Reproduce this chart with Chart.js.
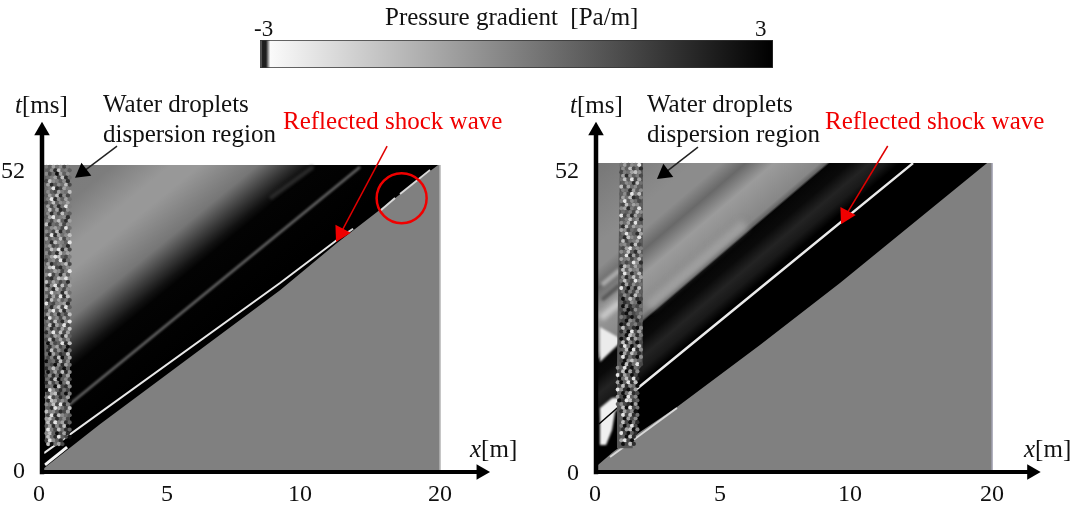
<!DOCTYPE html>
<html>
<head>
<meta charset="utf-8">
<script src="https://cdn.jsdelivr.net/npm/chart.js@4"></script>
<style>
    html, body { margin: 0; padding: 0; background: #fff; }
    #fig { position: relative; width: 1079px; height: 511px; overflow: hidden; filter: blur(0.4px); }
    canvas { position: absolute; }
    .lbl { position: absolute; font: 25px/28px "Liberation Serif", serif; color: #111; white-space: pre; }
    .red { color: #f00000; }
</style>
</head>
<body>
<div id="fig">
    <canvas id="colorbar" width="540" height="50" style="left:250px;top:30px"></canvas>
    <canvas id="leftChart" width="540" height="511" style="left:0;top:0"></canvas>
    <canvas id="rightChart" width="539" height="511" style="left:540px;top:0"></canvas>

    <div class="lbl" style="left:385px;top:3px">Pressure gradient  [Pa/m]</div>
    <div class="lbl" style="left:254px;top:15px;font-size:23px">-3</div>
    <div class="lbl" style="left:755px;top:15px;font-size:23px">3</div>

    <div class="lbl" style="left:15px;top:91px"><i>t</i>[ms]</div>
    <div class="lbl" style="left:103px;top:90px">Water droplets</div>
    <div class="lbl" style="left:103px;top:120px">dispersion region</div>
    <div class="lbl red" style="left:283px;top:107px">Reflected shock wave</div>
    <div class="lbl" style="left:470px;top:435px"><i>x</i>[m]</div>

    <div class="lbl" style="left:570px;top:91px"><i>t</i>[ms]</div>
    <div class="lbl" style="left:647px;top:90px">Water droplets</div>
    <div class="lbl" style="left:647px;top:120px">dispersion region</div>
    <div class="lbl red" style="left:825px;top:107px">Reflected shock wave</div>
    <div class="lbl" style="left:1024px;top:435px"><i>x</i>[m]</div>
</div>
<script>
var colorbarValues = [-3, -2.97, -2.93, -2.88, 3];
var colorbarGrays = [150, 30, 30, 250, 0];

// axes: the printed labels do not sit on an even scale in the figure
var leftXTickLabels = ['0', '5', '10', '20'];
var leftXTickAt = [-0.15, 6.28, 12.96, 20];
var leftYTickLabels = ['0', '52'];
var leftYTickAt = [0, 50.8];
var rightXTickLabels = ['0', '5', '10', '20'];
var rightXTickAt = [-0.05, 6.26, 12.83, 20];
var rightYTickLabels = ['0', '52'];
var rightYTickAt = [-0.34, 50.5];

// left panel, x in m, t in ms
var leftFieldX = [0, 19.9, 16.98, 14.82, 11.96, 7.94, 2.91, 0.05, 0];
var leftFieldT = [52, 52, 44.4, 38.8, 30.8, 20.7, 8.1, 0.5, 0.5];
var leftWaveT0 = [55, 42, 34, 30, 22, 18, 15, 13.5, 0];
var leftWaveGray = [122, 125, 152, 152, 118, 60, 18, 3, 0];
var leftShockX = [0.1, 11.96, 14.82];
var leftShockT = [3.2, 32, 39.3];
var leftShockBitsX = [15.23, 15.63, null, 16.98, 17.74, null, 17.99, 19.5];
var leftShockBitsT = [40.3, 41.2, null, 44.2, 46.4, null, 47.1, 51.15];
var leftWedgeX = [0.15, 1.26];
var leftWedgeT = [1.2, 4.2];
var leftGrayLineX = [1.16, 15.98];
var leftGrayLineT = [10.84, 51.66];
var leftFaintLineX = [11.46, 13.62];
var leftFaintLineT = [46.4, 51.66];
var leftEdgeX = [20, 20];
var leftEdgeT = [0, 52];
var leftStripX = [0.15, 1.4, 1.4, 1.0, 0.15];
var leftStripT = [52, 52, 8, 5, 5];
var leftRedShaftX = [17.34, 15.01];
var leftRedShaftT = [55.2, 40.45];
var leftBlackShaftX = [3.77, 2.04];
var leftBlackShaftT = [55.2, 50.8];
var leftCircleX = [18.07];
var leftCircleT = [46.36];

// right panel
var rightFieldX = [0, 19.75, 12.32, 8.28, 4.09, 2.22, 0.86, 0.1, 0];
var rightFieldT = [52, 52, 31.82, 21.38, 10.94, 6.73, 3.37, 1.18, 1.18];
var rightWaveT0 = [52, 38, 34, 30.6, 26.5, 20, 19, 18.5, 15.6, 12.8, 10.6, 8.5, 0];
var rightWaveGray = [118, 140, 140, 105, 155, 135, 100, 5, 10, 35, 25, 0, 0];
var rightShockX = [1.87, 8.79, 16.01];
var rightShockT = [13.47, 32.32, 52];
var rightFrontLineX = [0.71, 4.09];
var rightFrontLineT = [2.53, 10.77];
var rightDarkLineX = [0.15, 1.36];
var rightDarkLineT = [8.08, 11.62];
var rightWedgeX = [0.2, 1.36, 0.2];
var rightWedgeT = [24.41, 22.22, 18.52];
var rightBlobX = [0.2, 0.81, 1.36, 1.36, 0.96, 0.81, 0.51, 0.2];
var rightBlobT = [10.77, 12.46, 12.63, 11.62, 10.1, 7.07, 4.55, 4.55];
var rightGlowAX = [0.25, 1.21];
var rightGlowAT = [25.9, 28.6];
var rightStreakX = [0.3, 1.21];
var rightStreakT = [29, 31.5];
var rightGlowBX = [0.3, 1.21];
var rightGlowBT = [31.5, 34];
var rightGlowCX = [2.63, 7.5];
var rightGlowCT = [27.9, 41.8];
var rightEdgeX = [20, 20];
var rightEdgeT = [0, 52];
var rightStripX = [1.21, 2.37, 2.35, 2.1, 1.85, 1.06, 1.06];
var rightStripT = [52, 52, 18, 17, 4, 4, 18];
var rightRedShaftX = [14.73, 12.61];
var rightRedShaftT = [54.88, 43.2];
var rightBlackShaftX = [5.15, 3.46];
var rightBlackShaftT = [54.7, 50.3];

var speckleGrays = [15, 45, 72, 95, 112, 125, 140, 162, 192, 228];

// droplet strip read row by row from t = 52 down, one digit per cell
var leftSpeckleStartX = 0.22;
var leftSpeckleStartT = 51.7;
var leftSpeckle = [
    '5374625', '3618453', '6240736', '4572814', '2865361', '7136482', '4591275', '6327548',
    '3748162', '5916374', '2483657', '7261495', '4837126', '6152843', '3794561', '5268317',
    '8143726', '3675294', '6428153', '2917468', '7354826', '4186539', '5723641', '3869172',
    '6241857', '4798325', '2563914', '7134682', '5892146', '3476259', '6925173', '2148796',
    '8375241', '1692837', '7418526', '3956184', '6273918', '1847352', '9325671', '4168293',
    '2793816', '7361428', '1946273', '5283169', '3817492', '6142738', '1593827', '4276183',
    '2814736', '0623918', '3157240', '1826304', '4073128', '2518037', '0341826', '3206174',
    '1485203', '0372816', '2614037', '4180362', '1725048', '3408216', '0963142', '2781305',
    '5924137', '1873640', '6482915', '3197428', '8563127', '2918643', '7841362', '8295713',
    '3716280', '9528413', '6830271', '8419320', '29631  ', '80472  '
];

var rightSpeckleStartX = 1.1;
var rightSpeckleStartT = 51.7;
var rightSpeckle = [
    ' 473659 ', ' 638241 ', ' 254786 ', ' 716352 ', ' 483927 ', ' 365184 ', ' 827463 ', ' 541736 ',
    ' 362958 ', ' 748125 ', ' 593642 ', ' 284763 ', ' 671539 ', ' 435286 ', ' 926174 ', ' 358461 ',
    ' 647293 ', ' 183756 ', ' 762438 ', ' 495317 ', ' 318649 ', ' 824573 ', ' 563182 ', ' 279465 ',
    ' 648317 ', ' 391725 ', ' 756248 ', ' 423961 ', ' 186374 ', ' 837562 ', ' 295148 ', ' 614837 ',
    ' 483296 ', ' 172634 ', ' 930518 ', ' 415273 ', ' 263184 ', ' 038512 ', ' 312640 ', ' 051324 ',
    ' 240163 ', ' 104235 ', ' 531026 ', ' 206413 ', ' 017352 ', ' 823106 ', ' 140927 ', ' 308615 ',
    ' 029174 ', ' 816302 ', ' 194038 ', ' 380916 ', ' 072841 ', ' 914206 ', ' 206853 ', ' 081492 ',
    '639104  ', '280716  ', '917302  ', '048291  ', '703918  ', '281640  ', '961027  ', '304812  ',
    '720936  ', '019823  ', '362107  ', ' 80924  ', ' 17360  ', ' 92814  ', ' 30726  ', ' 82041  ',
    ' 50392  ', ' 17806  ', ' 92031  ', ' 3081   ', ' 7920   ', ' 0281   '
];

var FONT = 'Liberation Serif';

function gray(v) {
    return 'rgb(' + v + ',' + v + ',' + v + ')';
}

function zip(xs, ts) {
    return xs.map(function (x, i) {
        return { x: x, y: ts[i] };
    });
}

function polygon(xs, ts, color, blur) {
    return {
        data: zip(xs, ts), showLine: true, fill: 'shape', backgroundColor: color,
        borderWidth: 0, pointRadius: 0, clip: false, blur: blur
    };
}

function line(xs, ts, color, width, blur, cap) {
    return {
        data: zip(xs, ts), showLine: true, fill: false, borderColor: color, borderWidth: width,
        borderCapStyle: cap || 'butt', pointRadius: 0, clip: false, blur: blur
    };
}

function marker(xs, ts, style, radius, rotation, color, hollow) {
    return {
        data: zip(xs, ts), showLine: false, pointStyle: style, pointRadius: radius,
        pointRotation: rotation,
        pointBackgroundColor: hollow ? 'rgba(0,0,0,0)' : color,
        pointBorderColor: color, pointBorderWidth: hollow ? 2.5 : 0, clip: false
    };
}

// every other row sits half a cell over so the strip does not read as a grid
function speckle(rows, startX, startT) {
    var pts = [];
    var colors = [];
    rows.forEach(function (row, r) {
        row.split('').forEach(function (c, i) {
            if (c === ' ') {
                return;
            }
            pts.push({ x: startX + i * 0.18 + (r % 2) * 0.09, y: startT - r * 0.61 });
            colors.push(gray(speckleGrays[Number(c)]));
        });
    });
    return {
        data: pts, showLine: false, pointStyle: 'circle', pointRadius: 2.1, pointBorderWidth: 0,
        pointBackgroundColor: colors, clip: false, blur: 0.7
    };
}

// gradient running across the diagonal waves, t0 is where a wave meets x = 0
function waveFill(slope, t0s, grays) {
    return function (context) {
        var chart = context.chart;
        if (!chart.chartArea) {
            return gray(128);
        }
        var sx = chart.scales.x;
        var sy = chart.scales.y;
        var first = t0s[0];
        var last = t0s[t0s.length - 1];
        var ax = sx.getPixelForValue(0);
        var ay = sy.getPixelForValue(first);
        var by = sy.getPixelForValue(last);
        var dx = sx.getPixelForValue(1) - ax;
        var dy = sy.getPixelForValue(slope) - sy.getPixelForValue(0);
        var len = Math.sqrt(dx * dx + dy * dy);
        var nx = -dy / len;
        var ny = dx / len;
        var dist = (by - ay) * ny;
        var g = chart.ctx.createLinearGradient(ax, ay, ax + nx * dist, ay + ny * dist);
        t0s.forEach(function (t0, i) {
            g.addColorStop((first - t0) / (first - last), gray(grays[i]));
        });
        return g;
    };
}

// soft edges for the datasets that ask for it. The filler paints before any
// plugin's beforeDatasetDraw, so the filter is set when the previous one ends.
var softEdges = {
    id: 'softEdges',
    afterDatasetDraw: function (chart, args) {
        var next = chart.data.datasets[args.index - 1];
        chart.ctx.filter = next && next.blur ? 'blur(' + next.blur + 'px)' : 'none';
    }
};

function panel(id, xMax, tMax, yWidth, padRight, xTicks, xLabels, yTicks, yLabels, datasets) {
    new Chart(document.getElementById(id), {
        type: 'scatter',
        data: { datasets: datasets.slice().reverse() },
        plugins: [softEdges],
        options: {
            responsive: false,
            animation: false,
            events: [],
            layout: { padding: { top: 122, right: padRight, left: 0, bottom: 0 } },
            plugins: { legend: { display: false }, tooltip: { enabled: false } },
            scales: {
                x: {
                    type: 'linear', min: 0, max: xMax,
                    grid: { display: false }, border: { display: false },
                    afterBuildTicks: function (s) {
                        s.ticks = xTicks.map(function (v) { return { value: v }; });
                    },
                    afterFit: function (s) {
                        s.height = 39;
                        s.paddingLeft = 0;
                        s.paddingRight = 0;
                    },
                    ticks: {
                        autoSkip: false, maxRotation: 0, padding: 0, color: '#111',
                        font: { family: FONT, size: 24 },
                        callback: function (v, i) { return xLabels[i]; }
                    }
                },
                y: {
                    type: 'linear', min: 0, max: tMax,
                    grid: { display: false }, border: { display: false },
                    afterBuildTicks: function (s) {
                        s.ticks = yTicks.map(function (v) { return { value: v }; });
                    },
                    afterFit: function (s) {
                        s.width = yWidth;
                        s.paddingTop = 0;
                        s.paddingBottom = 0;
                    },
                    ticks: {
                        autoSkip: false, padding: 9, color: '#111',
                        font: { family: FONT, size: 24 },
                        callback: function (v, i) { return yLabels[i]; }
                    }
                }
            }
        }
    });
}

// listed in paint order, first one at the back
panel('leftChart', 22.51, 59.28, 42, 50, leftXTickAt, leftXTickLabels, leftYTickAt, leftYTickLabels, [
    polygon([0, 20, 20, 0], [0, 0, 52, 52], gray(128)),
    line(leftEdgeX, leftEdgeT, gray(185), 1.5),
    polygon(leftFieldX, leftFieldT, waveFill(2.764, leftWaveT0, leftWaveGray)),
    line(leftFaintLineX, leftFaintLineT, gray(45), 4, 1.5),
    line(leftGrayLineX, leftGrayLineT, gray(105), 2.5, 0.8),
    line(leftShockX, leftShockT, gray(232), 2),
    line(leftShockBitsX, leftShockBitsT, gray(215), 2),
    line(leftWedgeX, leftWedgeT, gray(245), 3, 0.5),
    polygon(leftStripX, leftStripT, gray(100)),
    speckle(leftSpeckle, leftSpeckleStartX, leftSpeckleStartT),
    line(leftBlackShaftX, leftBlackShaftT, '#222', 1.5),
    marker([leftBlackShaftX[1]], [leftBlackShaftT[1]], 'triangle', 9.5, 233, '#000'),
    line(leftRedShaftX, leftRedShaftT, '#e00000', 1.5),
    marker([leftRedShaftX[1]], [leftRedShaftT[1]], 'triangle', 10, 208, '#f00000'),
    marker(leftCircleX, leftCircleT, 'circle', 25, 0, '#f00000', true),
    line([0, 0], [0, 57.8], '#000', 4.5, 0, 'square'),
    marker([0], [57.8], 'triangle', 9, 0, '#000'),
    line([0, 22.06], [0, 0], '#000', 4, 0, 'square'),
    marker([22.06], [0], 'triangle', 9, 90, '#000')
]);

panel('rightChart', 22.42, 58.92, 56, 39, rightXTickAt, rightXTickLabels, rightYTickAt, rightYTickLabels, [
    polygon([0, 20, 20, 0], [0, 0, 52, 52], gray(128)),
    line(rightEdgeX, rightEdgeT, '#a4a4b4', 1.5),
    polygon(rightFieldX, rightFieldT, waveFill(2.833, rightWaveT0, rightWaveGray)),
    line(rightGlowCX, rightGlowCT, gray(160), 10, 3),
    line(rightGlowBX, rightGlowBT, gray(170), 5, 1.5),
    line(rightStreakX, rightStreakT, gray(85), 4, 1.5),
    line(rightGlowAX, rightGlowAT, gray(200), 7, 2),
    polygon(rightWedgeX, rightWedgeT, gray(235), 1),
    polygon(rightBlobX, rightBlobT, gray(240), 1),
    line(rightDarkLineX, rightDarkLineT, '#000', 1.5),
    line(rightFrontLineX, rightFrontLineT, gray(215), 2, 0.5),
    line(rightShockX, rightShockT, gray(235), 2.5),
    polygon(rightStripX, rightStripT, gray(85)),
    speckle(rightSpeckle, rightSpeckleStartX, rightSpeckleStartT),
    line(rightBlackShaftX, rightBlackShaftT, '#222', 1.5),
    marker([rightBlackShaftX[1]], [rightBlackShaftT[1]], 'triangle', 9.5, 233, '#000'),
    line(rightRedShaftX, rightRedShaftT, '#e00000', 1.5),
    marker([rightRedShaftX[1]], [rightRedShaftT[1]], 'triangle', 10, 208, '#f00000'),
    line([0, 0], [0, 57.45], '#000', 4.5, 0, 'square'),
    marker([0], [57.45], 'triangle', 9, 0, '#000'),
    line([0, 22], [0, 0], '#000', 4, 0, 'square'),
    marker([22], [0], 'triangle', 9, 90, '#000')
]);

new Chart(document.getElementById('colorbar'), {
    type: 'bar',
    data: {
        labels: ['Pressure gradient'],
        datasets: [{
            data: [[colorbarValues[0], colorbarValues[colorbarValues.length - 1]]],
            barPercentage: 1,
            categoryPercentage: 1,
            borderWidth: 1,
            borderColor: '#333',
            borderSkipped: false,
            backgroundColor: function (context) {
                var chart = context.chart;
                if (!chart.chartArea) {
                    return '#888';
                }
                var s = chart.scales.x;
                var lo = colorbarValues[0];
                var hi = colorbarValues[colorbarValues.length - 1];
                var g = chart.ctx.createLinearGradient(s.getPixelForValue(lo), 0, s.getPixelForValue(hi), 0);
                colorbarValues.forEach(function (v, i) {
                    g.addColorStop((v - lo) / (hi - lo), gray(colorbarGrays[i]));
                });
                return g;
            }
        }]
    },
    options: {
        indexAxis: 'y',
        responsive: false,
        animation: false,
        events: [],
        layout: { padding: { left: 10, right: 17, top: 10, bottom: 12 } },
        plugins: { legend: { display: false }, tooltip: { enabled: false } },
        scales: {
            x: { min: -3, max: 3, display: false },
            y: { display: false }
        }
    }
});
</script>
</body>
</html>
